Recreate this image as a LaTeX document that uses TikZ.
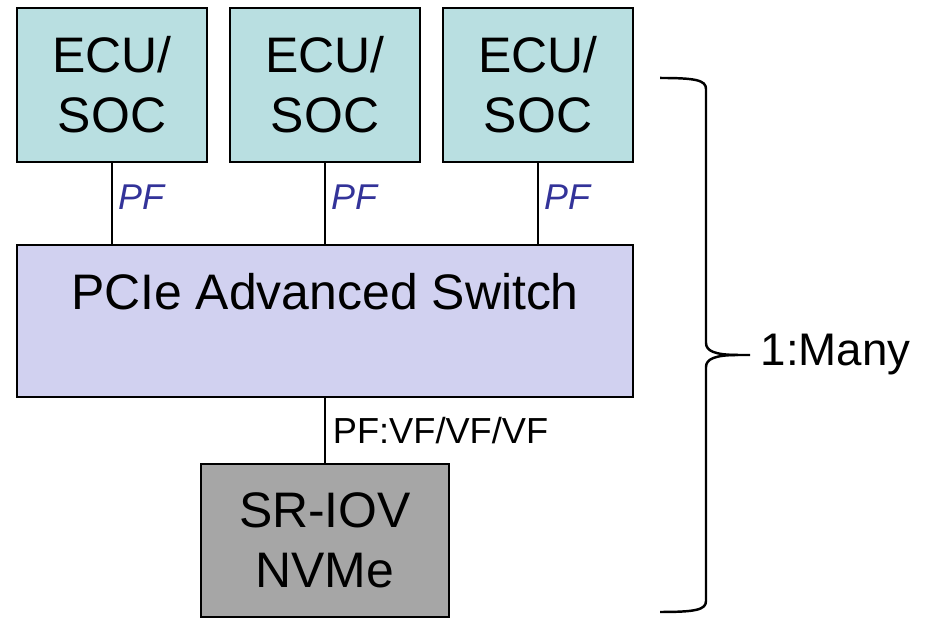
\documentclass[tikz,border=0pt]{standalone}
\usepackage{fontspec}
\setmainfont{Liberation Sans}
\usetikzlibrary{positioning}

\definecolor{ecufill}{RGB}{185,223,225}
\definecolor{swfill}{RGB}{209,209,240}
\definecolor{nvmefill}{RGB}{166,166,166}
\definecolor{pfblue}{RGB}{51,51,153}

\begin{document}
\begin{tikzpicture}[
        box/.style = {
            draw,
            line width=0.7pt,
            align=center,
            inner sep=0pt,
            outer sep=0pt,
            font=\fontsize{14.2}{17}\selectfont
        },
        ecubox/.style = {box, fill=ecufill, minimum width=1.9cm, minimum height=1.54cm},
        link/.style = {line width=0.5pt},
        pflabel/.style = {font=\fontsize{10.2}{12}\selectfont\itshape, text=pfblue, inner sep=1.5pt},
        node distance=0.23cm]

        \useasboundingbox (0,0) rectangle (9.30,6.19);

        \node[ecubox] (ecu1) at (1.12,5.34) {ECU/\\SOC};
        \node[ecubox, right=of ecu1] (ecu2) {ECU/\\SOC};
        \node[ecubox, right=of ecu2] (ecu3) {ECU/\\SOC};
        \node[box, fill=swfill, minimum width=6.16cm, minimum height=1.52cm,
              below=0.83cm of ecu2] (sw) {PCIe Advanced Switch\\~};
        \node[box, fill=nvmefill, minimum width=2.48cm, minimum height=1.53cm,
              below=0.67cm of sw] (nvme) {SR-IOV\\NVMe};

        \draw[link] (ecu1) -- (ecu1 |- sw.north) node[pos=0.42, right, pflabel] {PF};
        \draw[link] (ecu2) -- (ecu2 |- sw.north) node[pos=0.42, right, pflabel] {PF};
        \draw[link] (ecu3) -- (ecu3 |- sw.north) node[pos=0.42, right, pflabel] {PF};
        \draw[link] (nvme.north -| sw) -- (sw) node[midway, right, inner sep=2pt, font=\fontsize{10.3}{12}\selectfont] {PF:VF/VF/VF};

        % brace 1:Many
        \coordinate (btop) at (6.60,5.41);
        \coordinate (bbot) at (6.60,0.07);
        \coordinate (tip) at (7.50,2.64);
        \draw[line width=0.7pt] (btop) .. controls (6.95,5.41) and (7.06,5.39) .. (7.06,5.30)
            -- (7.06,2.76) .. controls (7.06,2.68) and (7.15,2.64) .. (7.38,2.64) -- (tip);
        \draw[line width=0.7pt] (7.38,2.64) .. controls (7.15,2.64) and (7.06,2.60) .. (7.06,2.52)
            -- (7.06,0.18) .. controls (7.06,0.09) and (6.95,0.07) .. (bbot);
        \node[right=0.02cm of tip, inner sep=0.08cm, font=\fontsize{13}{15}\selectfont] (many) {1:Many};
    \end{tikzpicture}
\end{document}
